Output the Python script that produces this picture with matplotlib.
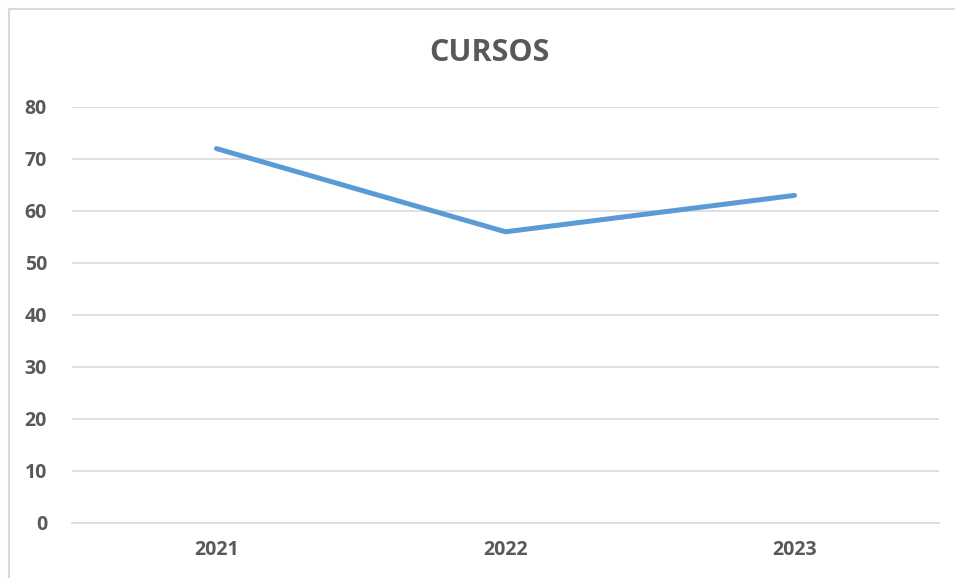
import matplotlib.pyplot as plt
from matplotlib.lines import Line2D

years = ['2021', '2022', '2023']
cursos = [72, 56, 63]
y_ticks = [0, 10, 20, 30, 40, 50, 60, 70, 80]

plt.rcParams['font.family'] = ['Open Sans', 'DejaVu Sans']

fig = plt.figure(figsize=(9.55, 5.78), dpi=100)
ax = fig.add_axes([72 / 955, 1 - 523 / 578, 867 / 955, 416 / 578])

x = range(len(years))
ax.plot(x, cursos, color='#5B9BD5', lw=3.6, solid_capstyle='round')

ax.set_xlim(-0.5, len(years) - 0.5)
ax.set_ylim(0, 80)
ax.set_xticks(list(x))
ax.set_xticklabels(years)
ax.set_yticks(y_ticks)
ax.grid(axis='y', color='#D9D9D9', lw=1.2)
ax.set_axisbelow(True)
for s in ['top', 'right', 'left']:
    ax.spines[s].set_visible(False)
ax.spines['bottom'].set_color('#D9D9D9')
ax.spines['bottom'].set_linewidth(1.2)
ax.tick_params(length=0, labelsize=14, labelcolor='#595959')
ax.tick_params(axis='y', pad=18)
ax.tick_params(axis='x', pad=12)
for lab in ax.get_xticklabels() + ax.get_yticklabels():
    lab.set_fontweight('bold')

fig.text(489 / 955, 1 - 53 / 578, 'CURSOS', ha='center', va='center',
         fontsize=22, fontweight='bold', color='#595959')

# chart border (only left and top visible)
fig.add_artist(Line2D([8.5 / 955, 8.5 / 955], [0, 1 - 9 / 578],
                      transform=fig.transFigure, color='#D9D9D9', lw=1.5))
fig.add_artist(Line2D([8.5 / 955, 1], [1 - 9 / 578, 1 - 9 / 578],
                      transform=fig.transFigure, color='#D9D9D9', lw=1.5))

fig.savefig('out.png', dpi=100)
